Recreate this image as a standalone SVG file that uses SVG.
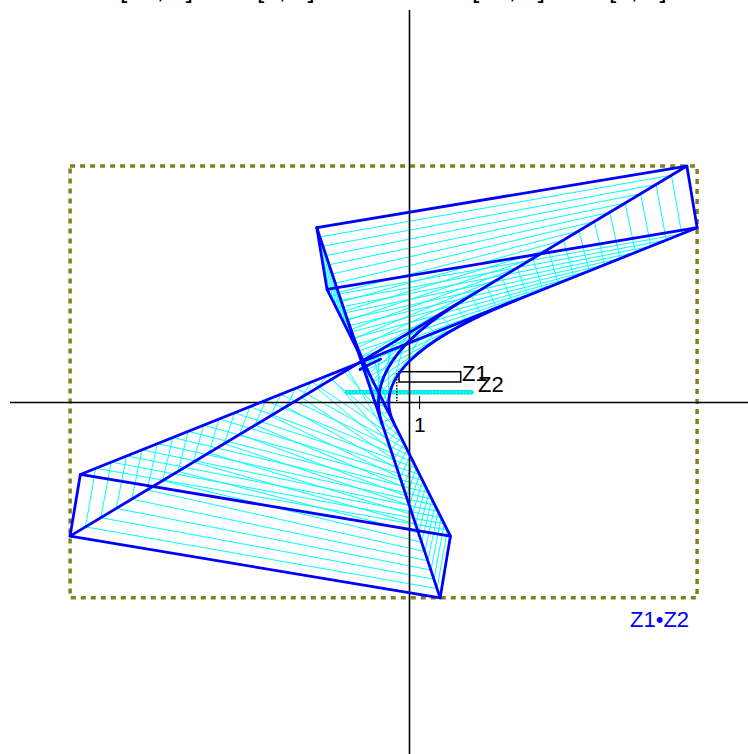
<svg xmlns="http://www.w3.org/2000/svg" width="748" height="754" viewBox="0 0 748 754">
<style>
.cy{fill:none;stroke:#00ffff;stroke-width:1;vector-effect:non-scaling-stroke;stroke-linejoin:round}
.bl{fill:none;stroke:#0000ff;stroke-width:2.8;vector-effect:non-scaling-stroke;stroke-linejoin:round;stroke-linecap:round}
.ax{stroke:#000;stroke-width:1.6;fill:none}
.t{font-family:"Liberation Sans",Arial,sans-serif;fill:#000}
</style>
<rect width="748" height="754" fill="#fff"/>
<g id="header" class="t" font-size="26">
<text x="120" y="-2.5">[−1, 5]</text>
<text x="257" y="-2.5">[2, 3]</text>
<text x="472" y="-2.5">[−6, 6]</text>
<text x="609" y="-2.5">[1, 1]</text>
</g>
<g id="sweep" transform="matrix(10.28 0 0 -10.28 409.3 402.5)">
<polygon class="cy" points="3,-19 -33,-13 -32,-7 4,-13"/>
<polygon class="cy" points="2.7,-18.1 -31.5,-12.1 -30.5,-6.4 3.7,-12.4"/>
<polygon class="cy" points="2.4,-17.2 -30,-11.2 -29,-5.8 3.4,-11.8"/>
<polygon class="cy" points="2.1,-16.3 -28.5,-10.3 -27.5,-5.2 3.1,-11.2"/>
<polygon class="cy" points="1.8,-15.4 -27,-9.4 -26,-4.6 2.8,-10.6"/>
<polygon class="cy" points="1.5,-14.5 -25.5,-8.5 -24.5,-4 2.5,-10"/>
<polygon class="cy" points="1.2,-13.6 -24,-7.6 -23,-3.4 2.2,-9.4"/>
<polygon class="cy" points="0.9,-12.7 -22.5,-6.7 -21.5,-2.8 1.9,-8.8"/>
<polygon class="cy" points="0.6,-11.8 -21,-5.8 -20,-2.2 1.6,-8.2"/>
<polygon class="cy" points="0.3,-10.9 -19.5,-4.9 -18.5,-1.6 1.3,-7.6"/>
<polygon class="cy" points="0,-10 -18,-4 -17,-1 1,-7"/>
<polygon class="cy" points="-0.3,-9.1 -16.5,-3.1 -15.5,-0.4 0.7,-6.4"/>
<polygon class="cy" points="-0.6,-8.2 -15,-2.2 -14,0.2 0.4,-5.8"/>
<polygon class="cy" points="-0.9,-7.3 -13.5,-1.3 -12.5,0.8 0.1,-5.2"/>
<polygon class="cy" points="-1.2,-6.4 -12,-0.4 -11,1.4 -0.2,-4.6"/>
<polygon class="cy" points="-1.5,-5.5 -10.5,0.5 -9.5,2 -0.5,-4"/>
<polygon class="cy" points="-1.8,-4.6 -9,1.4 -8,2.6 -0.8,-3.4"/>
<polygon class="cy" points="-2.1,-3.7 -7.5,2.3 -6.5,3.2 -1.1,-2.8"/>
<polygon class="cy" points="-2.4,-2.8 -6,3.2 -5,3.8 -1.4,-2.2"/>
<polygon class="cy" points="-2.7,-1.9 -4.5,4.1 -3.5,4.4 -1.7,-1.6"/>
<polygon class="cy" points="-3,-1 -3,5 -2,5 -2,-1"/>
<polygon class="cy" points="-3.3,-0.1 -1.5,5.9 -0.5,5.6 -2.3,-0.4"/>
<polygon class="cy" points="-3.6,0.8 0,6.8 1,6.2 -2.6,0.2"/>
<polygon class="cy" points="-3.9,1.7 1.5,7.7 2.5,6.8 -2.9,0.8"/>
<polygon class="cy" points="-4.2,2.6 3,8.6 4,7.4 -3.2,1.4"/>
<polygon class="cy" points="-4.5,3.5 4.5,9.5 5.5,8 -3.5,2"/>
<polygon class="cy" points="-4.8,4.4 6,10.4 7,8.6 -3.8,2.6"/>
<polygon class="cy" points="-5.1,5.3 7.5,11.3 8.5,9.2 -4.1,3.2"/>
<polygon class="cy" points="-5.4,6.2 9,12.2 10,9.8 -4.4,3.8"/>
<polygon class="cy" points="-5.7,7.1 10.5,13.1 11.5,10.4 -4.7,4.4"/>
<polygon class="cy" points="-6,8 12,14 13,11 -5,5"/>
<polygon class="cy" points="-6.3,8.9 13.5,14.9 14.5,11.6 -5.3,5.6"/>
<polygon class="cy" points="-6.6,9.8 15,15.8 16,12.2 -5.6,6.2"/>
<polygon class="cy" points="-6.9,10.7 16.5,16.7 17.5,12.8 -5.9,6.8"/>
<polygon class="cy" points="-7.2,11.6 18,17.6 19,13.4 -6.2,7.4"/>
<polygon class="cy" points="-7.5,12.5 19.5,18.5 20.5,14 -6.5,8"/>
<polygon class="cy" points="-7.8,13.4 21,19.4 22,14.6 -6.8,8.6"/>
<polygon class="cy" points="-8.1,14.3 22.5,20.3 23.5,15.2 -7.1,9.2"/>
<polygon class="cy" points="-8.4,15.2 24,21.2 25,15.8 -7.4,9.8"/>
<polygon class="cy" points="-8.7,16.1 25.5,22.1 26.5,16.4 -7.7,10.4"/>
<polygon class="cy" points="-9,17 27,23 28,17 -8,11"/>
</g>
<g id="z2">
<line x1="347" y1="392.2" x2="471.5" y2="392.2" stroke="#00e8e8" stroke-width="4.5" stroke-linecap="round"/>
<line x1="347" y1="392.2" x2="471.5" y2="392.2" stroke="#80ffff" stroke-width="1.2" stroke-dasharray="1.2 2.2"/>
</g>
<g id="bounds">
<rect x="70.1" y="166.1" width="627" height="431.7" fill="none" stroke="#808020" stroke-width="3.5" stroke-dasharray="5 5"/>
</g>
<g id="axes">
<line class="ax" x1="10" y1="402.5" x2="748" y2="402.5"/>
<line class="ax" x1="409.5" y1="10" x2="409.5" y2="754"/>
<line x1="419.6" y1="396" x2="419.6" y2="409" stroke="#000" stroke-width="1"/>
<line x1="396.8" y1="373" x2="396.8" y2="401" stroke="#000" stroke-width="1.5" stroke-dasharray="1.5 1.5"/>
<text class="t" x="414" y="432" font-size="21">1</text>
</g>
<g id="z1">
<rect x="399" y="371.7" width="61.7" height="10.3" fill="none" stroke="#000" stroke-width="1.5"/>
<text class="t" x="462" y="381" font-size="22">Z1</text>
<text class="t" x="478" y="391.5" font-size="22">Z2</text>
</g>
<g id="product" transform="matrix(10.28 0 0 -10.28 409.3 402.5)">
<polygon class="bl" points="3,-19 -33,-13 -32,-7 4,-13"/>
<polygon class="bl" points="-9,17 27,23 28,17 -8,11"/>
<line class="bl" x1="-9" y1="17" x2="3" y2="-19"/>
<line class="bl" x1="27" y1="23" x2="-33" y2="-13"/>
<line class="bl" x1="28" y1="17" x2="-32" y2="-7"/>
<line class="bl" x1="-8" y1="11" x2="4" y2="-13"/>
<path class="bl" d="M-2.667,-2 Q-4.667,4 5.333,10"/>
<path class="bl" d="M-1.5,-2 Q-4.5,4 10.5,10"/>
<path class="bl" d="M-4,3 Q-5,5 -6,8"/>
<path class="bl" d="M-2.8,4.2 Q-3.7,3.8 -4.8,3.2"/>
</g>
<g id="label">
<text x="630" y="627" font-family="Liberation Sans, Arial, sans-serif" font-size="22" fill="#0000ff">Z1•Z2</text>
</g>
</svg>
